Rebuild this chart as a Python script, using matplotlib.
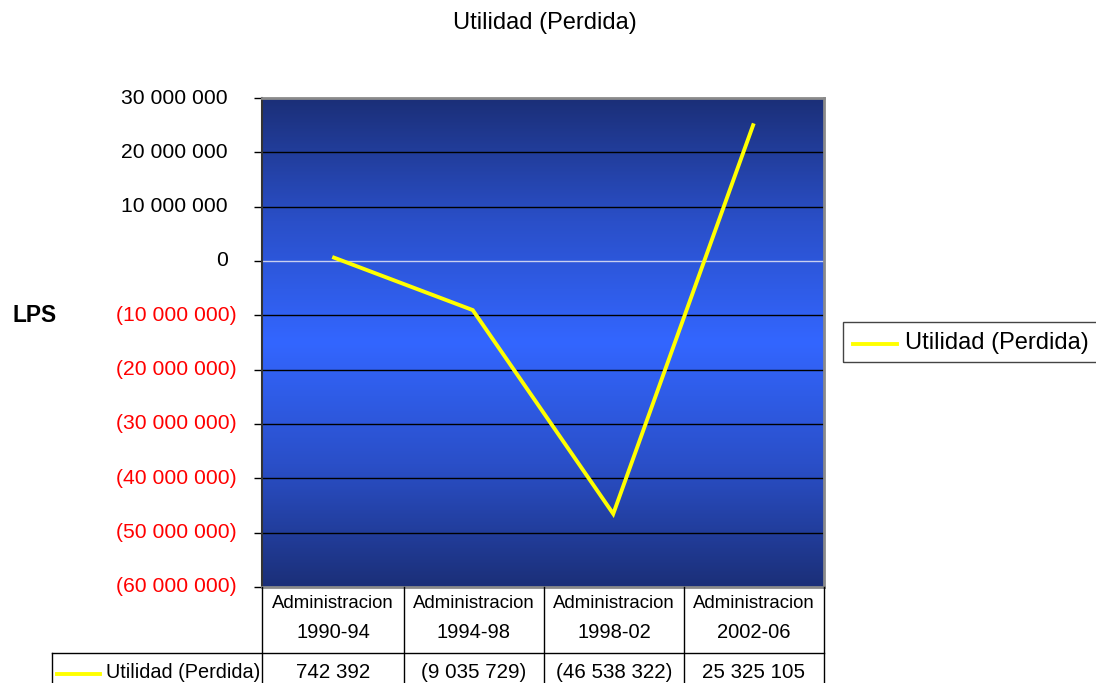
import numpy as np
import matplotlib
matplotlib.use("Agg")
import matplotlib.pyplot as plt
from matplotlib.colors import LinearSegmentedColormap
from matplotlib.lines import Line2D
from matplotlib.transforms import blended_transform_factory

plt.rcParams["font.family"] = ["Liberation Sans", "DejaVu Sans"]

# data
periods = ["1990-94", "1994-98", "1998-02", "2002-06"]
cat_prefix = "Administracion"
utilidad = [742392, -9035729, -46538322, 25325105]
series_name = "Utilidad (Perdida)"
y_ticks = [30e6, 20e6, 10e6, 0, -10e6, -20e6, -30e6, -40e6, -50e6, -60e6]

W, H = 1096, 683
fig = plt.figure(figsize=(W / 100, H / 100), dpi=100)


def fx(px):
    return px / W


def fy(py):
    return 1 - py / H


L, R, T, B = 262, 824, 98, 587
ax = fig.add_axes([fx(L), fy(B), fx(R) - fx(L), fy(T) - fy(B)])

# blue gradient background, darkest at top and bottom
grad_cmap = LinearSegmentedColormap.from_list(
    "bg", ["#1b2f78", "#2a4fc8", "#3366ff", "#2a4fc8", "#1b2f78"])
g = np.linspace(0, 1, 256).reshape(-1, 1)
ax.imshow(g, cmap=grad_cmap, aspect="auto", extent=[0, 1, 0, 1],
          transform=ax.transAxes, zorder=0)

x = np.arange(len(periods))
ax.set_xlim(-0.5, len(periods) - 0.5)
ax.set_ylim(-60e6, 30e6)

for v in y_ticks:
    if v == 0:
        ax.axhline(v, color="#c8d0f0", lw=1.0, zorder=1)
    elif v not in (30e6, -60e6):
        ax.axhline(v, color="black", lw=1.0, zorder=1)

ax.plot(x, utilidad, color="#ffff00", lw=2.8, zorder=3,
        solid_capstyle="butt", solid_joinstyle="miter")


def fmt(v):
    s = f"{abs(int(v)):,}".replace(",", " ")
    return f"({s})" if v < 0 else s


# tick marks only; labels placed by hand so positives leave room for ")"
ax.set_yticks(y_ticks)
ax.set_yticklabels([])
ax.tick_params(axis="y", length=6, width=1, color="black")
ax.set_xticks([])
lab_tr = blended_transform_factory(fig.transFigure, ax.transData)
for v in y_ticks:
    if v < 0:
        ax.text(fx(237), v, fmt(v), transform=lab_tr, ha="right", va="center",
                fontsize=15.2, color="red", clip_on=False)
    else:
        ax.text(fx(228), v, fmt(v), transform=lab_tr, ha="right", va="center",
                fontsize=15.2, color="black", clip_on=False)

for side in ["top", "right", "bottom"]:
    ax.spines[side].set_color("#8a8a8a")
    ax.spines[side].set_linewidth(2)
ax.spines["left"].set_color("#333333")
ax.spines["left"].set_linewidth(1.5)

fig.text(fx(545), fy(23), series_name, ha="center", va="center", fontsize=17)
fig.text(fx(35), fy(316), "LPS", ha="center", va="center", fontsize=16.4,
         fontweight="bold")

# legend box
fig.add_artist(plt.Rectangle((fx(843), fy(362)), fx(W + 5) - fx(843),
                             fy(322) - fy(362), transform=fig.transFigure,
                             fill=False, edgecolor="#444444", lw=1))
fig.add_artist(Line2D([fx(853), fx(897)], [fy(344), fy(344)],
                      transform=fig.transFigure, color="#ffff00", lw=2.8))
fig.text(fx(905), fy(343), series_name, ha="left", va="center", fontsize=17)

# data table under the plot
cols = [L, 404, 544, 684, R]
row_top, row_mid = B, 653
line_kw = dict(transform=fig.transFigure, color="black", lw=1)
for cx in cols:
    fig.add_artist(Line2D([fx(cx), fx(cx)], [fy(row_top), fy(H + 2)], **line_kw))
fig.add_artist(Line2D([fx(52), fx(R)], [fy(row_mid), fy(row_mid)], **line_kw))
fig.add_artist(Line2D([fx(52), fx(52)], [fy(row_mid), fy(H + 2)], **line_kw))

for i, p in enumerate(periods):
    cx = (cols[i] + cols[i + 1]) / 2
    fig.text(fx(cx), fy(604), cat_prefix, ha="center", va="center", fontsize=13.4)
    fig.text(fx(cx), fy(632), p, ha="center", va="center", fontsize=14.5)
    fig.text(fx(cx), fy(673), fmt(utilidad[i]), ha="center", va="center",
             fontsize=14.8)

fig.add_artist(Line2D([fx(57), fx(100)], [fy(674), fy(674)],
                      transform=fig.transFigure, color="#ffff00", lw=2.8))
fig.text(fx(106), fy(673), series_name, ha="left", va="center", fontsize=14.3)

fig.savefig("out.png", dpi=100, facecolor="white")
